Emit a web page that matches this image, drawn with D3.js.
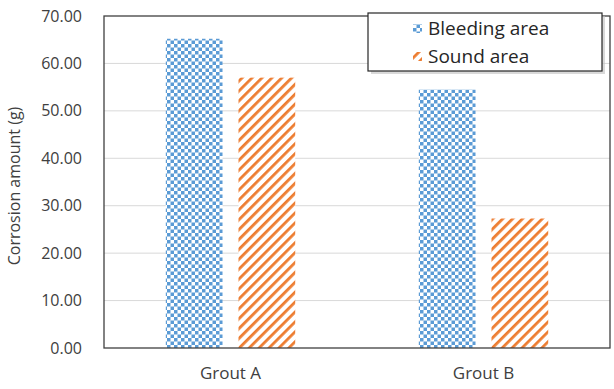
<!DOCTYPE html>
<html>
<head>
<meta charset="utf-8">
<script src="https://cdn.jsdelivr.net/npm/d3@7"></script>
<style>
body { margin: 0; background: #fff; }
svg { font-family: "Open Sans", "Noto Sans", sans-serif; }
</style>
</head>
<body>
<svg id="chart"></svg>
<script>
const CATEGORIES = ['Grout A', 'Grout B'];
const SERIES = ['Bleeding area', 'Sound area'];
const BLEEDING = [65.2, 54.5];
const SOUND = [57.0, 27.3];
const Y_TICKS = [0, 10, 20, 30, 40, 50, 60, 70];

const WIDTH = 614, HEIGHT = 389;
const MARGINS = {top: 16, right: 4, bottom: 41, left: 104};
const CHART_WIDTH = WIDTH - MARGINS.left - MARGINS.right;
const CHART_HEIGHT = HEIGHT - MARGINS.top - MARGINS.bottom;
const BLUE = '#5b9bd5', ORANGE = '#ed7d31';

const svg = d3.select('#chart').attr('width', WIDTH).attr('height', HEIGHT);

// patterns
const defs = svg.append('defs');
const checker = defs.append('pattern').attr('id', 'checker')
    .attr('patternUnits', 'userSpaceOnUse').attr('width', 7).attr('height', 7);
checker.append('rect').attr('width', 7).attr('height', 7).attr('fill', '#fff');
checker.append('rect').attr('width', 3.5).attr('height', 3.5).attr('fill', BLUE);
checker.append('rect').attr('x', 3.5).attr('y', 3.5).attr('width', 3.5).attr('height', 3.5).attr('fill', BLUE);

const stripes = defs.append('pattern').attr('id', 'stripes')
    .attr('patternUnits', 'userSpaceOnUse').attr('width', 7).attr('height', 7)
    .attr('patternTransform', 'rotate(45)');
stripes.append('rect').attr('width', 7).attr('height', 7).attr('fill', '#fff');
stripes.append('rect').attr('width', 2.8).attr('height', 7).attr('fill', ORANGE);

const data = CATEGORIES.map((c, i) => ({cat: c, values: [
    {key: SERIES[0], value: BLEEDING[i], fill: 'url(#checker)'},
    {key: SERIES[1], value: SOUND[i], fill: 'url(#stripes)'}
]}));

const x = d3.scaleBand().domain(CATEGORIES).range([0, CHART_WIDTH]);
const x1 = d3.scaleBand().domain(SERIES).range([0, x.bandwidth()]).paddingInner(0.22).paddingOuter(0.85);
const y = d3.scaleLinear().domain([0, 70]).range([CHART_HEIGHT, 0]);

const chart = svg.append('g').attr('transform', `translate(${MARGINS.left},${MARGINS.top})`);

// gridlines
chart.append('g').selectAll('line').data(Y_TICKS.slice(1, -1)).enter().append('line')
    .attr('x1', 0).attr('x2', CHART_WIDTH)
    .attr('y1', d => y(d)).attr('y2', d => y(d))
    .attr('stroke', '#d9d9d9').attr('stroke-width', 1);

// bars
chart.selectAll('.grp').data(data).enter().append('g')
    .attr('transform', d => `translate(${x(d.cat)},0)`)
    .selectAll('rect').data(d => d.values).enter().append('rect')
    .attr('x', d => x1(d.key))
    .attr('width', x1.bandwidth())
    .attr('y', d => y(d.value))
    .attr('height', d => CHART_HEIGHT - y(d.value))
    .attr('fill', d => d.fill);

// frame
chart.append('rect').attr('width', CHART_WIDTH).attr('height', CHART_HEIGHT)
    .attr('fill', 'none').attr('stroke', '#404040').attr('stroke-width', 1.3);

// y axis
const yAxis = chart.append('g').call(d3.axisLeft(y).tickValues(Y_TICKS).tickSize(0).tickPadding(22)
    .tickFormat(d3.format('.2f')));
yAxis.select('.domain').remove();
yAxis.selectAll('text').attr('font-size', 16).attr('fill', '#404040')
    .attr('font-family', '"Open Sans", sans-serif');

// x axis
const xAxis = chart.append('g').attr('transform', `translate(0,${CHART_HEIGHT})`)
    .call(d3.axisBottom(x).tickSize(0).tickPadding(19));
xAxis.select('.domain').remove();
xAxis.selectAll('text').attr('font-size', 17).attr('fill', '#404040')
    .attr('font-family', '"Open Sans", sans-serif');

// y label
svg.append('text')
    .attr('transform', `translate(20,186) rotate(-90)`)
    .attr('text-anchor', 'middle')
    .attr('font-size', 16).attr('fill', '#404040')
    .text('Corrosion amount (g)');

// legend
const legend = svg.append('g').attr('transform', 'translate(368,13)');
legend.append('rect').attr('x', 3).attr('y', 3).attr('width', 234).attr('height', 58)
    .attr('fill', '#bfbfbf').attr('opacity', 0.6);
legend.append('rect').attr('width', 234).attr('height', 58)
    .attr('fill', '#fff').attr('stroke', '#262626').attr('stroke-width', 1.2);
const items = legend.selectAll('.item').data(SERIES).enter().append('g')
    .attr('transform', (d, i) => `translate(45,${15 + i * 28})`);
items.append('rect').attr('x', 0).attr('y', -4).attr('width', 9).attr('height', 9)
    .attr('fill', (d, i) => i === 0 ? 'url(#checker)' : 'url(#stripes)');
items.append('text').attr('x', 15).attr('y', 0).attr('dy', '0.35em')
    .attr('font-size', 19).attr('fill', '#262626').text(d => d);
</script>
</body>
</html>
